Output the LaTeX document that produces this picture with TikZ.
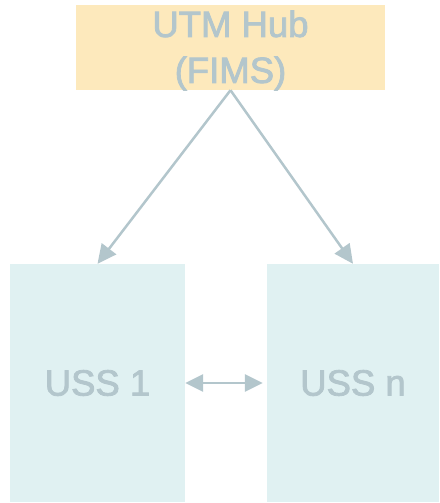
\documentclass[tikz,border=0pt]{standalone}
\usepackage{fontspec}
\setmainfont{Liberation Sans}
\newfontfamily\diagfont{Liberation Sans}[RawFeature={embolden=2.2}]
\usetikzlibrary{arrows.meta}
\definecolor{txtc}{HTML}{B3C6CC}
\definecolor{hubfill}{HTML}{FDE9BC}
\definecolor{ussfill}{HTML}{E0F1F2}
\begin{document}
\begin{tikzpicture}[x=1pt,y=-1pt,
  box/.style={rectangle, inner sep=0pt, text=txtc, align=center,
    font=\diagfont\fontsize{36.5}{46}\selectfont},
  conn/.style={draw=txtc, line width=2.5pt,
    -{Triangle[length=19pt,width=18pt]}},
  biconn/.style={draw=txtc, line width=2.8pt,
    {Triangle[length=18pt,width=17pt]}-{Triangle[length=18pt,width=17pt]}}]
\useasboundingbox (0,0) rectangle (439,503);
\node[box, fill=hubfill, minimum width=309pt, minimum height=85pt] (hub) at (230.5,47.5) {};
\node[box] (hubtext) at (230.5,50.5) {UTM Hub\\(FIMS)};
\node[box, fill=ussfill, minimum width=175pt, minimum height=238pt] (uss1) at (97.5,383) {USS 1};
\node[box, fill=ussfill, minimum width=172pt, minimum height=238pt] (ussn) at (353,383) {USS n};
\draw[conn] (hub.south) -- (uss1.north);
\draw[conn] (hub.south) -- (ussn.north);
\draw[biconn, shorten >=4pt] (uss1.east) -- (ussn.west);
\end{tikzpicture}
\end{document}
